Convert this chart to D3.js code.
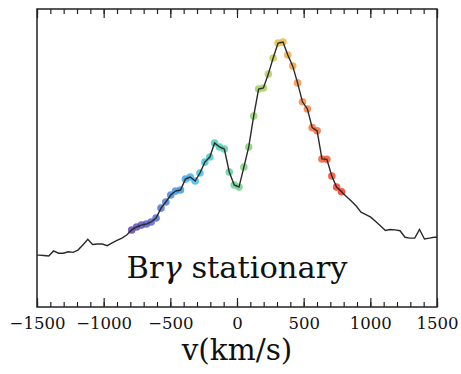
<!DOCTYPE html>
<html>
<head>
<meta charset="utf-8">
<script src="https://cdn.jsdelivr.net/npm/d3@7"></script>
<style>
  html, body { margin: 0; padding: 0; background: #fff; }
  svg { display: block; }
  text { font-family: "DejaVu Serif", serif; fill: #111; }
</style>
</head>
<body>
<svg id="chart" width="461" height="374"></svg>
<script>
// ---- data ----
const velocity = [-1522,-1485,-1449,-1412,-1376,-1339,-1302,-1266,-1229,-1193,-1156,-1119,-1083,-1046,-1010,-973,-936,-900,-863,-827,
  -790,-753,-717,-680,-644,-607,-570,-534,-497,-461,-424,-387,-351,-314,-278,-241,-204,-168,-131,-95,-58,-21,15,52,88,125,162,198,235,271,308,345,381,418,454,491,528,564,601,637,674,711,747,784,
  820,857,894,930,967,1003,1040,1077,1113,1150,1186,1223,1260,1296,1333,1369,1406,1443,1479,1516];
const flux = [0.990,0.990,0.988,0.986,1.010,0.999,0.999,1.006,1.003,1.014,1.038,1.065,1.041,1.043,1.043,1.035,1.048,1.060,1.071,1.086,
  1.110,1.124,1.133,1.138,1.148,1.167,1.214,1.243,1.276,1.295,1.300,1.352,1.362,1.343,1.381,1.433,1.457,1.524,1.505,1.495,1.386,1.324,1.314,1.410,1.505,1.652,1.781,1.786,1.852,1.929,2.000,2.005,1.943,1.890,1.810,1.720,1.686,1.597,1.582,1.448,1.446,1.367,1.314,1.292,
  1.269,1.248,1.224,1.195,1.183,1.171,1.150,1.129,1.107,1.112,1.110,1.106,1.075,1.071,1.071,1.112,1.067,1.071,1.075,1.075];
const colouredRange = [-800, 800];           // velocities marked with coloured points
const colourStopsV = [-790,-600,-450,-300,-170,0,150,280,340,450,600,790];
const colourStops  = ["#5b3ca6","#4a62d0","#3a90e0","#38b8e8","#40c8b8","#68d088","#90d060","#c8c848","#e8b440","#f59040","#f56030","#f52a18"];
const majorTicks = [-1500,-1000,-500,0,500,1000,1500];
const minorTicks = d3.range(-1500, 1501, 100);
const xLabel = "v(km/s)";
const lineName = ["Br", "γ", " stationary"];

// ---- layout ----
const svg = d3.select("#chart");
const L = 37, R = 437, T = 9, B = 307;
const x = d3.scaleLinear().domain([-1500, 1500]).range([L, R]);
const y = d3.scaleLinear().domain([0.743, 2.162]).range([B, T]);
const colour = d3.scaleLinear().domain(colourStopsV).range(colourStops).interpolate(d3.interpolateRgb).clamp(true);

const data = velocity.map((v, i) => ({v, f: flux[i]}));

svg.append("defs").append("clipPath").attr("id", "clip")
  .append("rect").attr("x", L).attr("y", T).attr("width", R - L).attr("height", B - T);

const plot = svg.append("g").attr("clip-path", "url(#clip)");

plot.selectAll("circle")
  .data(data.filter(d => d.v >= colouredRange[0] && d.v <= colouredRange[1]))
  .join("circle")
  .attr("cx", d => x(d.v)).attr("cy", d => y(d.f)).attr("r", 3.8)
  .attr("fill", d => colour(d.v)).attr("fill-opacity", 0.8);

plot.append("path").datum(data)
  .attr("d", d3.line().x(d => x(d.v)).y(d => y(d.f)))
  .attr("fill", "none").attr("stroke", "#2a2a2a").attr("stroke-width", 1.4);

// axes
function styleAxis(g) {
  g.select(".domain").remove();
  g.selectAll(".tick line").attr("stroke", "#222").attr("stroke-width", 1.2);
}
svg.append("g").attr("transform", `translate(0,${B})`)
  .call(d3.axisBottom(x).tickValues(minorTicks).tickSize(-5).tickFormat(""))
  .call(styleAxis);
const bx = svg.append("g").attr("transform", `translate(0,${B})`)
  .call(d3.axisBottom(x).tickValues(majorTicks).tickSize(-9).tickPadding(10.5).tickFormat(d3.format("d")))
  .call(styleAxis);
bx.selectAll(".tick text").attr("font-size", 16.5).attr("font-family", "DejaVu Serif").attr("fill", "#111")
  .text(d => d3.format("d")(d).replace("-", "−"));
svg.append("g").attr("transform", `translate(0,${T})`)
  .call(d3.axisTop(x).tickValues(minorTicks).tickSize(-5).tickFormat(""))
  .call(styleAxis);
svg.append("g").attr("transform", `translate(0,${T})`)
  .call(d3.axisTop(x).tickValues(majorTicks).tickSize(-9).tickFormat(""))
  .call(styleAxis);

svg.append("rect").attr("x", L).attr("y", T).attr("width", R - L).attr("height", B - T)
  .attr("fill", "none").attr("stroke", "#222").attr("stroke-width", 1.5);

svg.append("text").attr("x", (L + R) / 2).attr("y", 360).attr("text-anchor", "middle")
  .attr("font-size", 29.5).text(xLabel);

const t = svg.append("text").attr("x", 237).attr("y", 278).attr("text-anchor", "middle").attr("font-size", 30.5);
t.append("tspan").text(lineName[0]);
t.append("tspan").attr("font-style", "italic").text(lineName[1]);
t.append("tspan").text(lineName[2]);
</script>
</body>
</html>
